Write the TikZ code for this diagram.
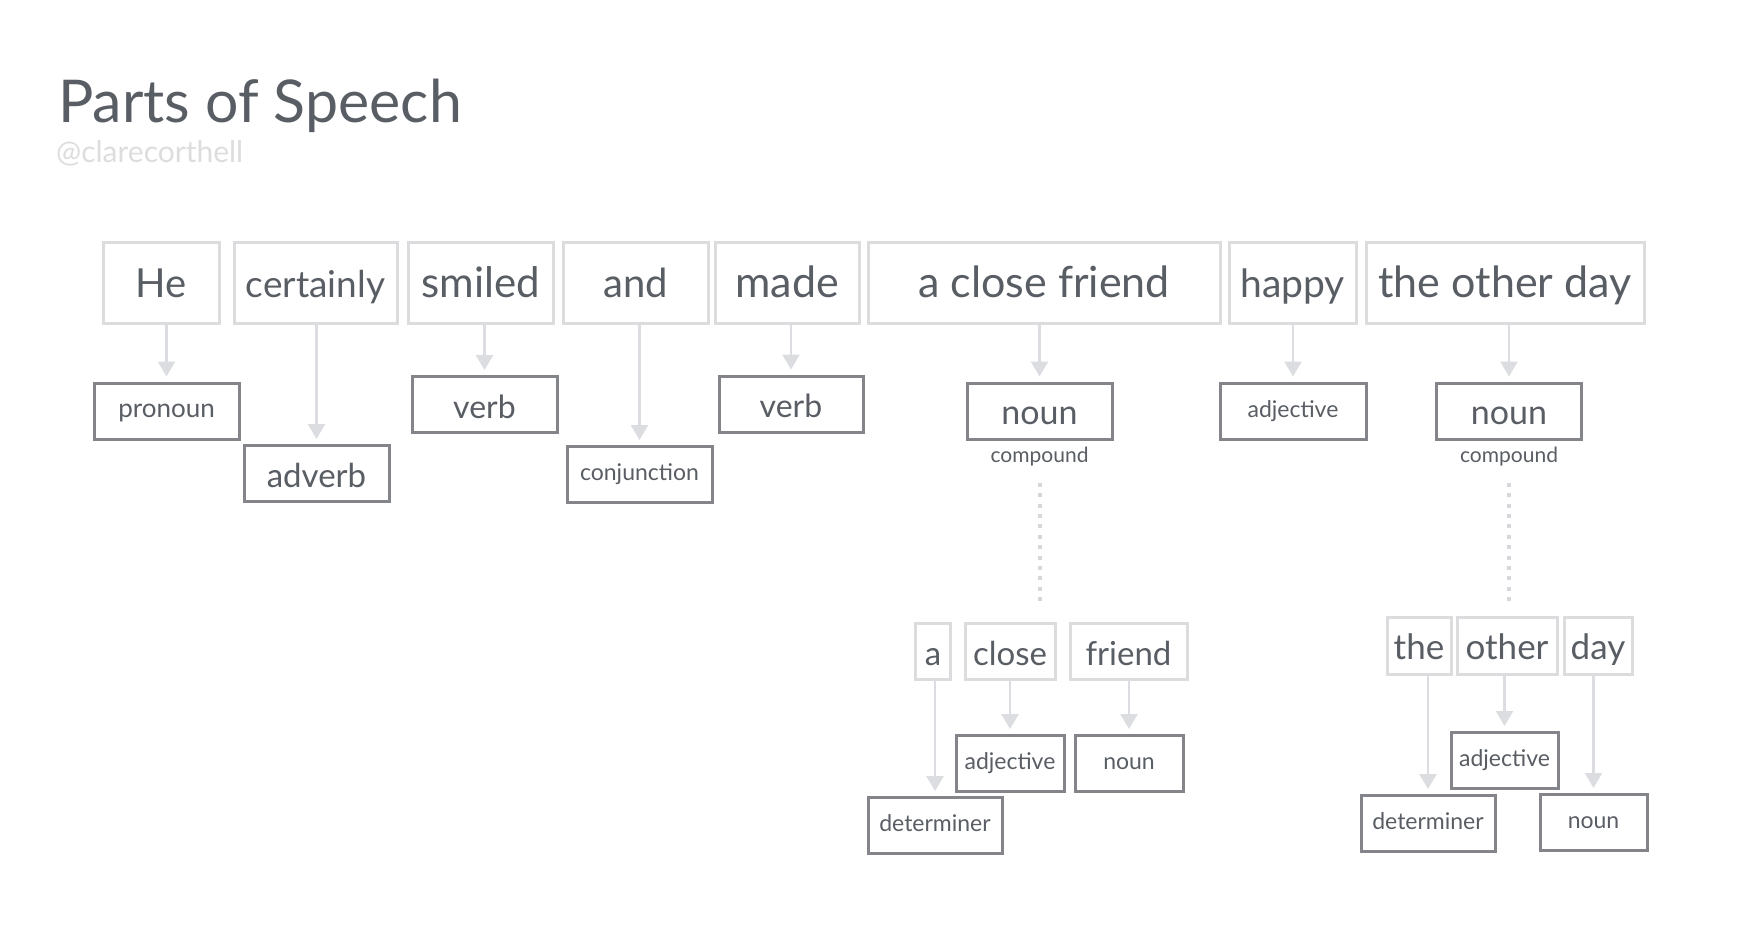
\documentclass[tikz,border=0pt]{standalone}
\usepackage{fontspec}
\setmainfont{Lato}
\usetikzlibrary{arrows.meta}
\definecolor{wline}{HTML}{DCDCDE}
\definecolor{lline}{HTML}{84858A}
\definecolor{txt}{HTML}{595D64}
\definecolor{aline}{HTML}{DCDDE0}
\definecolor{dline}{HTML}{D6D7DA}
\definecolor{subt}{HTML}{DDDDDD}
\begin{document}
\begin{tikzpicture}[x=1pt,y=-1pt,
 wbox/.style={draw=wline,line width=3pt,inner sep=0pt,text=txt,minimum height=81pt,
   font=\fontsize{40}{40}\selectfont,text height=32pt,text depth=3pt},
 sbox/.style={draw=wline,line width=3pt,inner sep=0pt,text=txt,minimum height=56pt,
   font=\fontsize{33}{33}\selectfont,text height=31pt,text depth=3pt},
 lbig/.style={draw=lline,line width=3pt,inner sep=0pt,text=txt,minimum height=56pt,
   font=\fontsize{32}{32}\selectfont,text height=30pt,text depth=3pt},
 lsmall/.style={draw=lline,line width=3pt,inner sep=0pt,text=txt,minimum height=56pt,
   font=\fontsize{23}{23}\selectfont,text height=15pt,text depth=3pt},
 note/.style={inner sep=0pt,text=txt,font=\fontsize{21}{21}\selectfont},
 conn/.style={draw=aline,line width=2.5pt,-{Triangle[width=17pt,length=15pt]},shorten >=5pt},
 dotl/.style={draw=dline,line width=4pt,dash pattern=on 4pt off 6.4pt}]
\useasboundingbox (0,0) rectangle (1750,950);
\fill[white] (0,0) rectangle (1750,950);
% title
\node[anchor=base west,inner sep=0pt,text=txt,font=\fontsize{59}{59}\selectfont] (title) at (58,122) {Parts of Speech};
\node[anchor=base west,inner sep=0pt,text=subt,font=\fontsize{30}{30}\selectfont] (sub) at (56,162) {@clarecorthell};
% word boxes
\node[wbox,minimum width=116pt] (he) at (161,282.5) {He};
\node[wbox,minimum width=163pt,font=\fontsize{37}{37}\selectfont] (cert) at (315.5,282.5) {certainly};
\node[wbox,minimum width=145pt,font=\fontsize{42}{42}\selectfont] (smiled) at (480.5,282.5) {smiled};
\node[wbox,minimum width=145pt] (and) at (635.5,282.5) {and};
\node[wbox,minimum width=144pt,font=\fontsize{43}{43}\selectfont] (made) at (787,282.5) {made};
\node[wbox,minimum width=352pt,font=\fontsize{43}{43}\selectfont] (acf) at (1044,282.5) {a close friend};
\node[wbox,minimum width=127pt,font=\fontsize{39}{39}\selectfont] (happy) at (1292.5,282.5) {happy};
\node[wbox,minimum width=278pt,font=\fontsize{43}{43}\selectfont] (tod) at (1505,282.5) {the other day};
% labels
\node[lsmall,minimum width=145pt,font=\fontsize{26}{26}\selectfont] (pron) at (166.5,411) {pronoun};
\node[lbig,minimum width=145pt,font=\fontsize{33}{33}\selectfont] (adv) at (316.5,473.5) {adverb};
\node[lbig,minimum width=145pt] (verba) at (484.5,404.5) {verb};
\node[lsmall,minimum width=145pt] (conj) at (639.5,474.5) {conjunction};
\node[lbig,minimum width=144pt] (verbb) at (791,404) {verb};
\node[lbig,minimum width=145pt,font=\fontsize{34}{34}\selectfont] (nouna) at (1039.5,411) {noun};
\node[lsmall,minimum width=146pt] (adja) at (1293,411) {adjective};
\node[lbig,minimum width=145pt,font=\fontsize{34}{34}\selectfont] (nounb) at (1509,411) {noun};
\node[note] (compa) at (1039.5,457) {compound};
\node[note] (compb) at (1509,457) {compound};
% arrows top
\draw[conn] (pron.north |- he.south) -- (pron.north);
\draw[conn] (adv.north |- cert.south) -- (adv.north);
\draw[conn] (verba.north |- smiled.south) -- (verba.north);
\draw[conn] (conj.north |- and.south) -- (conj.north);
\draw[conn] (verbb.north |- made.south) -- (verbb.north);
\draw[conn] (nouna.north |- acf.south) -- (nouna.north);
\draw[conn] (adja.north |- happy.south) -- (adja.north);
\draw[conn] (nounb.north |- tod.south) -- (nounb.north);
% lower words
\node[sbox,minimum width=35pt] (wa) at (933,651) {a};
\node[sbox,minimum width=90pt] (wclose) at (1010,651) {close};
\node[sbox,minimum width=117pt] (wfriend) at (1128.5,651) {friend};
\node[sbox,minimum width=64pt,minimum height=57pt,font=\fontsize{35}{35}\selectfont] (wthe) at (1419,645.5) {the};
\node[sbox,minimum width=100pt,minimum height=57pt,font=\fontsize{35}{35}\selectfont] (wother) at (1507,645.5) {other};
\node[sbox,minimum width=68pt,minimum height=57pt,font=\fontsize{35}{35}\selectfont] (wday) at (1598,645.5) {day};
% dotted links
\coordinate (da) at (1039.5,607);
\coordinate (db) at (1509,607);
\draw[dotl] (compa.south) ++(0,16) -- (da);
\draw[dotl] (compb.south) ++(0,16) -- (db);
% lower labels
\node[lsmall,minimum width=108pt] (adjb) at (1010,763.5) {adjective};
\node[lsmall,minimum width=108pt] (nounc) at (1129,763.5) {noun};
\node[lsmall,minimum width=134pt] (deta) at (935,825.5) {determiner};
\node[lsmall,minimum width=107pt] (adjc) at (1504.5,760.5) {adjective};
\node[lsmall,minimum width=134pt] (detb) at (1428,823.5) {determiner};
\node[lsmall,minimum width=107pt] (nound) at (1593.5,822.5) {noun};
% lower arrows
\draw[conn] (deta.north |- wa.south) -- (deta.north);
\draw[conn] (adjb.north |- wclose.south) -- (adjb.north);
\draw[conn] (nounc.north |- wfriend.south) -- (nounc.north);
\draw[conn] (detb.north |- wthe.south) -- (detb.north);
\draw[conn] (adjc.north |- wother.south) -- (adjc.north);
\draw[conn] (nound.north |- wday.south) -- (nound.north);
\end{tikzpicture}
\end{document}
